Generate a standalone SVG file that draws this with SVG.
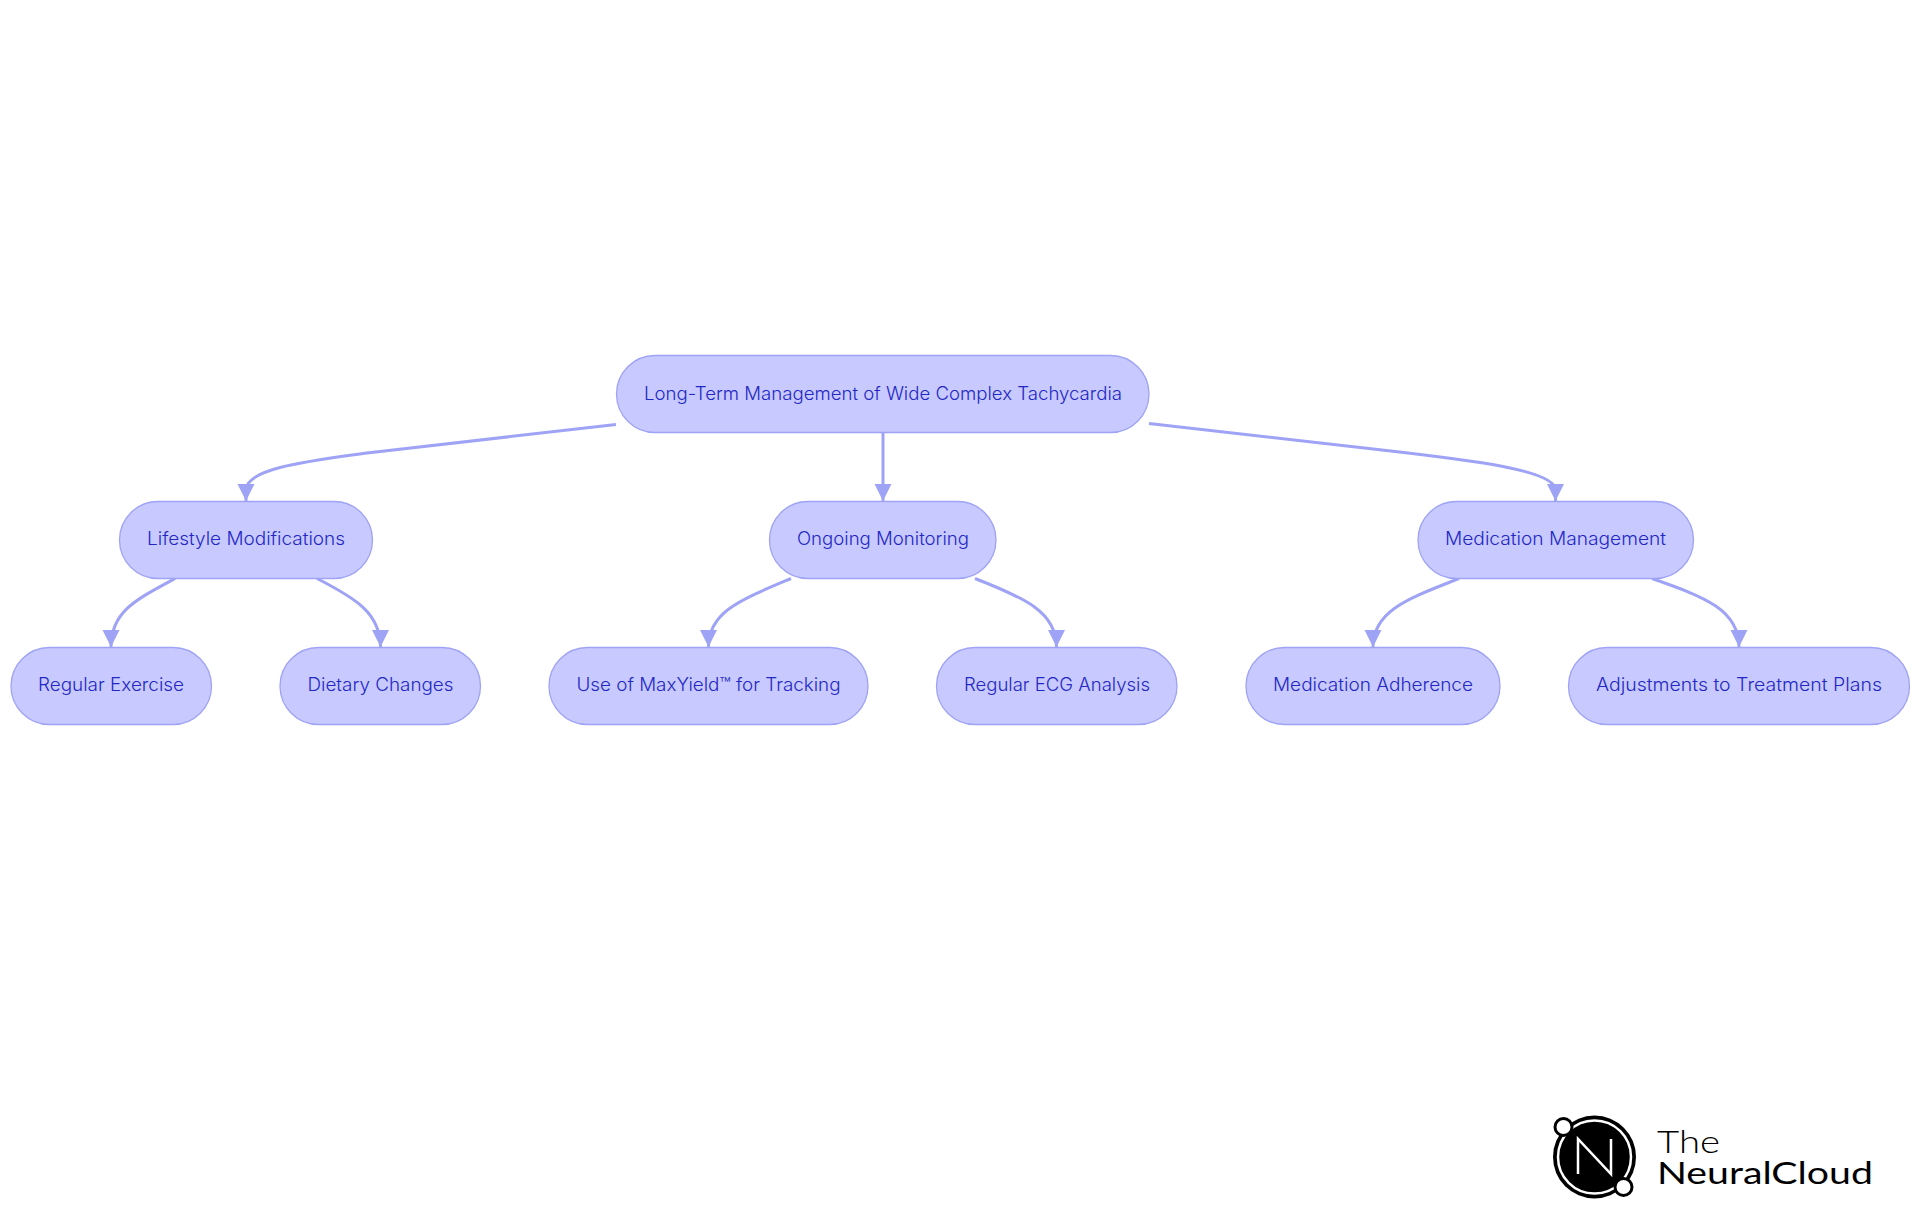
<svg xmlns="http://www.w3.org/2000/svg" width="1920" height="1215" viewBox="0 0 1920 1215">
<style>
.n{fill:#c8caff;stroke:#9fa3f5;stroke-width:1.3}
.t{font-family:Inter,"Noto Sans","Liberation Sans",sans-serif;font-size:18.300px;font-weight:300;fill:#2327c4;text-anchor:middle}
.c{fill:none;stroke:#9fa3f5;stroke-width:3}
.l{font-family:Lato,"Open Sans","Liberation Sans",sans-serif;fill:#000;font-size:31px}
</style>
<defs><marker id="a" markerUnits="userSpaceOnUse" markerWidth="20" markerHeight="20" refX="17" refY="8.500" orient="auto"><path d="M0 0L17 8.500L0 17Z" fill="#9fa3f5"/></marker></defs>
<rect width="1920" height="1215" fill="#fff"/>
<g id="connectors">
<path class="c" marker-end="url(#a)" d="M616 424.500L367 453C310 461 246 468 246 490L246 501"/>
<path class="c" marker-end="url(#a)" d="M883 432.500V501"/>
<path class="c" marker-end="url(#a)" d="M1149 423.500L1382 450C1470 460 1555.500 470 1555.500 490L1555.500 501"/>
<path class="c" marker-end="url(#a)" d="M175 578.500C135 600 111 612 111 647"/>
<path class="c" marker-end="url(#a)" d="M317 578.500C355 598 380.500 613 380.500 647"/>
<path class="c" marker-end="url(#a)" d="M791 578.500C740 600 708.500 612 708.500 647"/>
<path class="c" marker-end="url(#a)" d="M975 578.500C1025 598 1056.500 612 1056.500 647"/>
<path class="c" marker-end="url(#a)" d="M1459 578.500C1410 598 1373 610 1373 647"/>
<path class="c" marker-end="url(#a)" d="M1652 578.500C1705 597 1739 610 1739 647"/>
</g>
<g id="root"><rect class="n" x="616.500" y="355.500" width="532.500" height="77" rx="38.500"/><text class="t" x="883" y="400" textLength="478" lengthAdjust="spacingAndGlyphs">Long-Term Management of Wide Complex Tachycardia</text></g>
<g id="lifestyle"><rect class="n" x="119.500" y="501.500" width="253" height="77" rx="38.500"/><text class="t" x="246" y="544.500" textLength="198" lengthAdjust="spacingAndGlyphs">Lifestyle Modifications</text></g>
<g id="monitoring"><rect class="n" x="769.500" y="501.500" width="226.500" height="77" rx="38.500"/><text class="t" x="883" y="544.500" textLength="172" lengthAdjust="spacingAndGlyphs">Ongoing Monitoring</text></g>
<g id="medication"><rect class="n" x="1418" y="501.500" width="275.500" height="77" rx="38.500"/><text class="t" x="1555.500" y="544.500" textLength="221" lengthAdjust="spacingAndGlyphs">Medication Management</text></g>
<g id="exercise"><rect class="n" x="11" y="647.500" width="200.500" height="77" rx="38.500"/><text class="t" x="111" y="690.500" textLength="146" lengthAdjust="spacingAndGlyphs">Regular Exercise</text></g>
<g id="dietary"><rect class="n" x="280" y="647.500" width="200.500" height="77" rx="38.500"/><text class="t" x="380.500" y="690.500" textLength="146" lengthAdjust="spacingAndGlyphs">Dietary Changes</text></g>
<g id="maxyield"><rect class="n" x="549" y="647.500" width="319" height="77" rx="38.500"/><text class="t" x="708.500" y="690.500" textLength="264" lengthAdjust="spacingAndGlyphs">Use of MaxYield™ for Tracking</text></g>
<g id="ecg"><rect class="n" x="936.500" y="647.500" width="240.500" height="77" rx="38.500"/><text class="t" x="1057" y="690.500" textLength="186" lengthAdjust="spacingAndGlyphs">Regular ECG Analysis</text></g>
<g id="adherence"><rect class="n" x="1246" y="647.500" width="254" height="77" rx="38.500"/><text class="t" x="1373" y="690.500" textLength="200" lengthAdjust="spacingAndGlyphs">Medication Adherence</text></g>
<g id="adjustments"><rect class="n" x="1568.500" y="647.500" width="341" height="77" rx="38.500"/><text class="t" x="1739" y="690.500" textLength="286" lengthAdjust="spacingAndGlyphs">Adjustments to Treatment Plans</text></g>
<g id="logo">
<circle cx="1594.500" cy="1157" r="41.500" fill="#000"/>
<circle cx="1594.500" cy="1157" r="36.500" fill="none" stroke="#fff" stroke-width="2.500"/>
<circle cx="1563.500" cy="1127" r="8.500" fill="#fff" stroke="#000" stroke-width="3"/>
<circle cx="1623.500" cy="1187" r="8.500" fill="#fff" stroke="#000" stroke-width="3"/>
<path d="M1578 1174V1139L1611 1174V1139" fill="none" stroke="#fff" stroke-width="2.500"/>
<text class="l" x="1657" y="1153" font-weight="300" textLength="63" lengthAdjust="spacingAndGlyphs">The</text>
<text class="l" x="1657" y="1184" font-weight="400" textLength="216" lengthAdjust="spacingAndGlyphs">NeuralCloud</text>
</g>
</svg>
